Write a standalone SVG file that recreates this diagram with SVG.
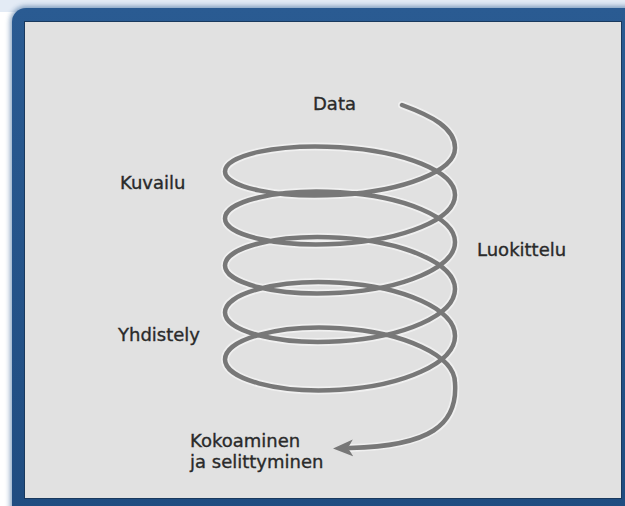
<svg xmlns="http://www.w3.org/2000/svg" width="625" height="506" viewBox="0 0 625 506">
  <defs>
    <filter id="soft" x="-10%" y="-10%" width="120%" height="120%">
      <feGaussianBlur stdDeviation="2.5"/>
    </filter>
    <linearGradient id="frameBlue" x1="0" y1="0" x2="0" y2="1">
      <stop offset="0" stop-color="#2a5b92"/>
      <stop offset="1" stop-color="#1f4c80"/>
    </linearGradient>
    <marker id="arrowhead" viewBox="0 0 20 18" refX="3" refY="9" markerWidth="20" markerHeight="18" markerUnits="userSpaceOnUse" orient="auto">
      <path d="M20,9 L0,0.5 L5,9 L0,17.5 Z" fill="#777777"/>
    </marker>
  </defs>
  <style>
    .coil-halo { fill: none; stroke: #f4f4f4; stroke-width: 8; stroke-linecap: round; stroke-linejoin: round; opacity: 0.8; }
    .coil { fill: none; stroke: #787878; stroke-width: 4.5; stroke-linecap: round; stroke-linejoin: round; }
    .label { font-family: "DejaVu Sans", "Liberation Sans", sans-serif; font-size: 18px; fill: #2a2a2a; stroke: #2a2a2a; stroke-width: 0.35; }
  </style>

  <!-- page background -->
  <rect x="0" y="0" width="625" height="506" fill="#ffffff"/>
  <rect x="0" y="0" width="625" height="12" fill="#e3ebf5"/>

  <!-- blue frame with soft edge -->
  <rect x="10" y="6" width="640" height="520" rx="16" fill="#2a5b92" opacity="0.55" filter="url(#soft)"/>
  <rect x="12" y="8" width="640" height="520" rx="14" fill="url(#frameBlue)"/>
  <rect x="24" y="21" width="598" height="478" fill="#19395e"/>
  <rect x="25" y="22" width="596" height="476" fill="#e1e1e1"/>

  <!-- connectors: the spiral -->
  <g id="connectors">
    <path id="spiral-halo" class="coil-halo" d="M402,105 C432,116 455,128 455,148
      C455,171.2 403.5,190.85 340,194.75
      C276.5,198.65 225,186.93 225,171.5
      C225,155.52 276.5,143.35 340,147.25
      C403.5,151.15 455,171.22 455,195
      C455,219.34 403.5,239.85 340,243.75
      C276.5,247.65 225,235.04 225,218.5
      C225,201.41 276.5,188.35 340,192.25
      C403.5,196.15 455,217.11 455,242
      C455,267.44 403.5,288.85 340,292.75
      C276.5,296.65 225,283.14 225,265.5
      C225,247.58 276.5,233.85 340,237.75
      C403.5,241.65 455,263.28 455,289
      C455,315.27 403.5,337.35 340,341.25
      C276.5,345.15 225,330.97 225,312.5
      C225,293.48 276.5,278.85 340,282.75
      C403.5,286.65 455,309.18 455,336
      C455,363.1 403.5,385.85 340,389.75
      C276.5,393.65 225,378.8 225,359.5
      C225,339.65 276.5,324.35 340,328.25
      C403.5,332.15 455,355.35 455,383
      C458,425 430,446 350,448"/>
    <path id="spiral" class="coil" marker-end="url(#arrowhead)" d="M402,105 C432,116 455,128 455,148
      C455,171.2 403.5,190.85 340,194.75
      C276.5,198.65 225,186.93 225,171.5
      C225,155.52 276.5,143.35 340,147.25
      C403.5,151.15 455,171.22 455,195
      C455,219.34 403.5,239.85 340,243.75
      C276.5,247.65 225,235.04 225,218.5
      C225,201.41 276.5,188.35 340,192.25
      C403.5,196.15 455,217.11 455,242
      C455,267.44 403.5,288.85 340,292.75
      C276.5,296.65 225,283.14 225,265.5
      C225,247.58 276.5,233.85 340,237.75
      C403.5,241.65 455,263.28 455,289
      C455,315.27 403.5,337.35 340,341.25
      C276.5,345.15 225,330.97 225,312.5
      C225,293.48 276.5,278.85 340,282.75
      C403.5,286.65 455,309.18 455,336
      C455,363.1 403.5,385.85 340,389.75
      C276.5,393.65 225,378.8 225,359.5
      C225,339.65 276.5,324.35 340,328.25
      C403.5,332.15 455,355.35 455,383
      C458,425 430,446 350,448"/>
  </g>

  <!-- stage labels -->
  <g id="data"><text class="label" x="313" y="110">Data</text></g>
  <g id="kuvailu"><text class="label" x="120" y="189">Kuvailu</text></g>
  <g id="luokittelu"><text class="label" x="477" y="256">Luokittelu</text></g>
  <g id="yhdistely"><text class="label" x="118" y="341">Yhdistely</text></g>
  <g id="kokoaminen">
    <text class="label" x="190" y="447">Kokoaminen</text>
    <text class="label" x="190" y="468">ja selittyminen</text>
  </g>
</svg>
